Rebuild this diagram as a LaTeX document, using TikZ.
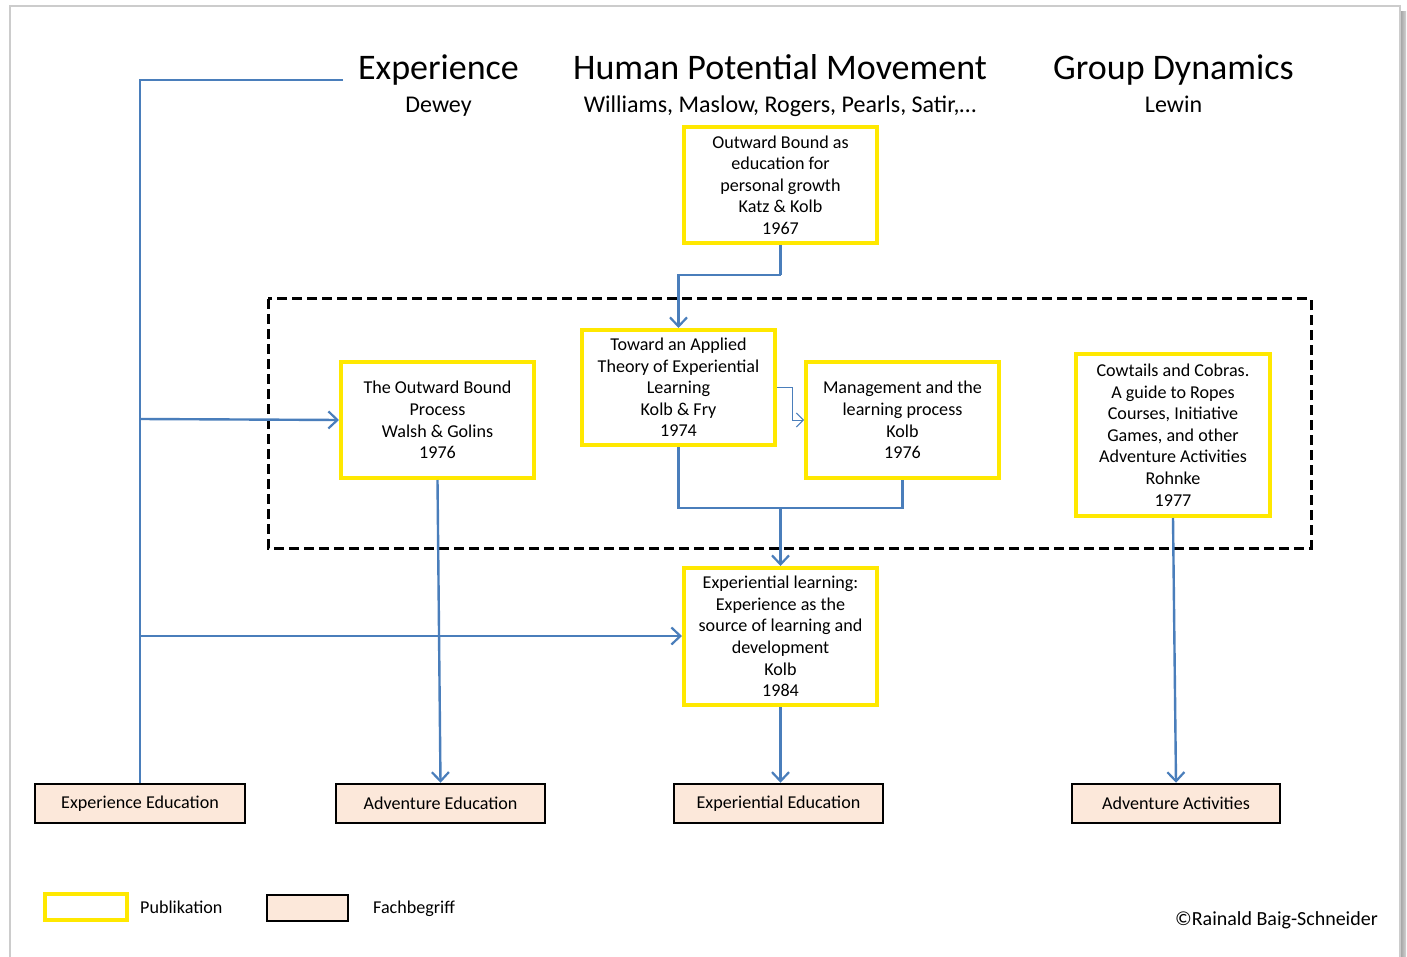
\documentclass[tikz,border=0pt]{standalone}
\usepackage{fontspec}
\setmainfont{Carlito}
\usetikzlibrary{arrows.meta}
\definecolor{conn}{HTML}{4A7EBB}
\definecolor{pubyellow}{HTML}{FFE800}
\definecolor{peach}{HTML}{FCE8DA}
\tikzset{
  body/.style={font=\fontsize{18.1}{21.6}\selectfont},
  pub/.style={draw=pubyellow, line width=4pt, fill=white, align=center, body, inner sep=0pt},
  term/.style={draw=black, line width=2.5pt, fill=peach, align=center, body, inner sep=0pt, minimum width=210pt, minimum height=39pt},
  conline/.style={draw=conn, line width=2.4pt},
  conarrow/.style={conline, -{Straight Barb[length=9pt,width=17pt,line width=2.2pt]}},
  thinarrow/.style={draw=conn, line width=1pt, -{Straight Barb[length=7pt,width=14pt,line width=1pt]}},
  title/.style={font=\fontsize{36}{40}\selectfont},
  subtitle/.style={font=\fontsize{24}{28}\selectfont},
  legendtext/.style={body, inner sep=0pt},
}
\begin{document}
\begin{tikzpicture}[x=1pt,y=-1pt]
\useasboundingbox (0,0) rectangle (1407,957);
% page frame
\fill[white] (10,6) rectangle (1400,957);
\shade[left color=gray!75, right color=gray!35] (1400,12) rectangle (1406,957);
\draw[gray!40, line width=1.5pt] (10,957) -- (10,6) -- (1400,6) -- (1400,957);

% titles
\node[title, anchor=base] (t1) at (438.5,80) {Experience};
\node[subtitle, anchor=base] (s1) at (438.5,112.5) {Dewey};
\node[title, anchor=base] (t2) at (780,80) {Human Potential Movement};
\node[subtitle, anchor=base] (s2) at (780,112.5) {Williams, Maslow, Rogers, Pearls, Satir,…};
\node[title, anchor=base] (t3) at (1173.5,80) {Group Dynamics};
\node[subtitle, anchor=base] (s3) at (1173.5,112.5) {Lewin};

% dashed frame
\draw[black, line width=3pt, dash pattern=on 10pt off 5pt] (268,299) rectangle (1311,548);

% publications
\node[pub, minimum width=193pt, minimum height=116pt] (ob) at (780.5,185) {Outward Bound as\\education for\\personal growth\\Katz \& Kolb\\1967};
\node[pub, minimum width=193pt, minimum height=115pt] (tw) at (678.5,387.5) {Toward an Applied\\Theory of Experiential\\Learning\\Kolb \& Fry\\1974};
\node[pub, minimum width=193pt, minimum height=116pt] (obp) at (437.5,420) {The Outward Bound\\Process\\Walsh \& Golins\\1976};
\node[pub, minimum width=193pt, minimum height=116pt] (mg) at (902.5,420) {Management and the\\learning process\\Kolb\\1976};
\node[pub, minimum width=194pt, minimum height=162pt] (cw) at (1173,435) {Cowtails and Cobras.\\A guide to Ropes\\Courses, Initiative\\Games, and other\\Adventure Activities\\Rohnke\\1977};
\node[pub, minimum width=193pt, minimum height=137pt] (el) at (780.5,636.5) {Experiential learning:\\Experience as the\\source of learning and\\development\\Kolb\\1984};

% terms
\node[term] (ee) at (140,803.5) {Experience Education};
\node[term, minimum width=209pt] (ae) at (440.5,803.5) {Adventure Education};
\node[term, minimum width=209pt] (xe) at (778.5,803.5) {Experiential Education};
\node[term, minimum width=208pt] (aa) at (1176,803.5) {Adventure Activities};

% connectors
\coordinate (dw) at (343,80);
\coordinate (j1) at (140,419);
\coordinate (j2) at (140,636);
\draw[conline] (dw) -- (140,80) -- (ee.north);
\draw[conarrow] (j1) -- (obp.west);
\draw[conarrow] (j2) -- (el.west |- j2);

\draw[conline] (ob.south) -- ++(0,30) coordinate (k1);
\draw[conarrow] (k1) -| (tw.north);

\draw[thinarrow] (tw.east) -- ++(15,0) |- (mg.west);

\path (tw.south) ++(0,61) coordinate (jb);
\draw[conline] (tw.south) -- (jb) -| (mg.south);
\draw[conarrow] (jb -| el.north) -- (el.north);

\draw[conarrow] (obp.south) -- (ae.north);
\draw[conarrow] (el.south) -- (el.south |- xe.north);
\draw[conarrow] (cw.south) -- (aa.north);

% legend
\node[draw=pubyellow, line width=4pt, fill=white, minimum width=82pt, minimum height=26pt, inner sep=0pt] (lp) at (86,907) {};
\node[legendtext, anchor=base west] (lpt) at (140,913) {Publikation};
\node[draw=black, line width=2.5pt, fill=peach, minimum width=81pt, minimum height=26pt, inner sep=0pt] (lf) at (307.5,908) {};
\node[legendtext, anchor=base west] (lft) at (373,913) {Fachbegriff};

\node[font=\fontsize{20}{24}\selectfont, inner sep=0pt, anchor=base east] (cr) at (1378,925) {©Rainald Baig-Schneider};
\end{tikzpicture}
\end{document}
